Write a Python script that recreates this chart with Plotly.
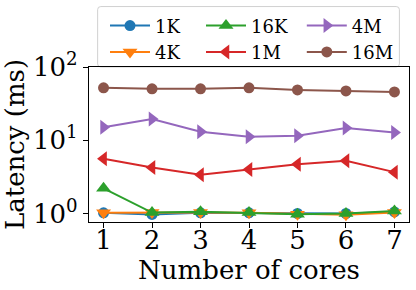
import plotly.graph_objects as go

cores = [1, 2, 3, 4, 5, 6, 7]
lat_1k = [1.02, 0.97, 1.02, 1.02, 1.00, 1.00, 1.05]
lat_4k = [1.02, 1.03, 1.03, 1.02, 0.98, 0.96, 1.03]
lat_16k = [2.21, 1.03, 1.06, 1.03, 0.98, 1.00, 1.08]
lat_1m = [5.58, 4.24, 3.37, 3.98, 4.72, 5.24, 3.67]
lat_4m = [15.0, 19.5, 13.1, 11.2, 11.5, 14.7, 12.8]
lat_16m = [51.9, 50.3, 50.3, 51.9, 48.7, 47.2, 45.7]

series_names = ["1K", "4K", "16K", "1M", "4M", "16M"]
ytick_vals = [1, 10, 100]
ytick_text = ["10<sup>0</sup>", "10<sup>1</sup>", "10<sup>2</sup>"]

colors = ["#1f77b4", "#ff7f0e", "#2ca02c", "#d62728", "#9467bd", "#8c564b"]
symbols = ["circle", "triangle-down", "triangle-up", "triangle-left", "triangle-right", "circle"]
sizes = [11, 13, 13, 13, 13, 11]
legends = ["legend", "legend", "legend2", "legend2", "legend3", "legend3"]
data = [lat_1k, lat_4k, lat_16k, lat_1m, lat_4m, lat_16m]

FONT = "DejaVu Serif"
fig = go.Figure()
for name, ys, c, s, sz, lg in zip(series_names, data, colors, symbols, sizes, legends):
    fig.add_trace(go.Scatter(
        x=cores, y=ys, name=name, mode="lines+markers",
        line=dict(color=c, width=2),
        marker=dict(color=c, symbol=s, size=sz, line=dict(width=0)),
        legend=lg,
    ))

leg_common = dict(orientation="v", bgcolor="rgba(0,0,0,0)", borderwidth=0,
                  font=dict(family=FONT, size=18, color="black"),
                  yanchor="top", y=1.385, xanchor="left", tracegroupgap=0,
                  itemwidth=40)
fig.update_layout(
    width=416, height=290,
    margin=dict(l=89, r=7, t=67, b=68, autoexpand=False),
    plot_bgcolor="white", paper_bgcolor="white",
    font=dict(family=FONT, size=26, color="black"),
    showlegend=True,
    legend=dict(leg_common, x=0.05),
    legend2=dict(leg_common, x=0.35),
    legend3=dict(leg_common, x=0.665),
    xaxis=dict(
        range=[0.7, 7.3], tickvals=cores, ticks="outside", ticklen=5,
        tickcolor="black", showgrid=False, zeroline=False, automargin=False,
        showline=True, linecolor="black", linewidth=1.2, mirror=True,
        ticklabelstandoff=-10,
        title=dict(text="Number of cores", font=dict(size=26), standoff=0),
        tickfont=dict(size=26),
    ),
    yaxis=dict(
        type="log", range=[-0.116, 2], tickvals=ytick_vals, ticktext=ytick_text,
        ticks="outside", ticklen=5, tickcolor="black", showgrid=False, automargin=False,
        zeroline=False, showline=True, linecolor="black", linewidth=1.2, mirror=True,
        title=dict(text="Latency (ms)", font=dict(size=26), standoff=0),
        tickfont=dict(size=26),
    ),
    shapes=[dict(
        type="path", xref="paper", yref="paper", layer="below",
        path="M 0.04,1.0 L 0.96,1.0 Q 0.97,1.0 0.97,1.02 L 0.97,1.37 Q 0.97,1.39 0.96,1.39 "
             "L 0.037,1.39 Q 0.027,1.39 0.027,1.37 L 0.027,1.02 Q 0.027,1.0 0.037,1.0 Z",
        line=dict(color="#d0d0d0", width=1), fillcolor="white",
    )],
)
fig.write_html("out.html", config={"displayModeBar": False},
               post_script="document.body.style.margin='0';")
